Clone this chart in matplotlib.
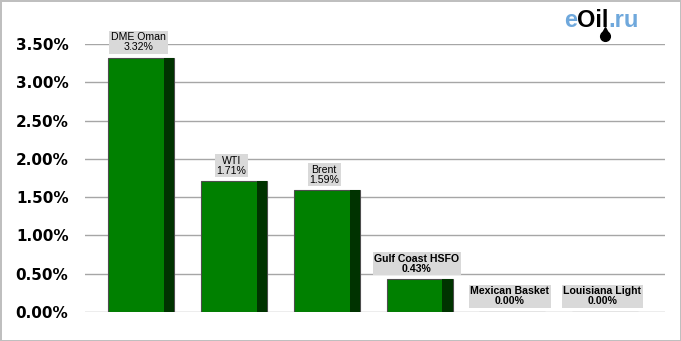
import matplotlib.pyplot as plt
from matplotlib.lines import Line2D
import numpy as np

# Chart data
names = ["DME Oman", "WTI", "Brent", "Gulf Coast HSFO", "Mexican Basket", "Louisiana Light"]
values = [3.32, 1.71, 1.59, 0.43, 0.00, 0.00]
yticks = [0.0, 0.5, 1.0, 1.5, 2.0, 2.5, 3.0, 3.5]

fig = plt.figure(figsize=(6.81, 3.41), dpi=100)
fig.patch.set_edgecolor("#bfbfbf")
fig.patch.set_linewidth(2)
ax = fig.add_axes([0.125, 0.085, 0.8515, 0.786])

x = np.arange(len(names))
w = 0.71
side = 0.11

# main green bars plus a dark strip on the right for the 3D look
ax.bar(x - 0.015, values, width=w, color="#008000", edgecolor="#4d4d4d", linewidth=0.8, zorder=3)
ax.bar(x - 0.015 + w / 2 - side / 2, values, width=side, color="#003300", linewidth=0, zorder=4)

# value labels in grey boxes
for xi, name, v in zip(x, names, values):
    ax.annotate(f"{name}\n{v:.2f}%", (xi, v), xytext=(-3, 4), textcoords="offset points",
                ha="center", va="bottom", fontsize=7.6, family="Liberation Sans",
                fontweight="bold" if v < 1 else "normal", linespacing=1.0,
                bbox=dict(boxstyle="square,pad=0.15", fc="#d9d9d9", ec="none"), zorder=5)

ax.set_xlim(-0.62, 5.63)
ax.set_ylim(0, 3.5)
ax.set_yticks(yticks)
ax.set_yticklabels([f"{t:.2f}%" for t in yticks], fontsize=11, fontweight="bold")
ax.tick_params(axis="y", length=0, pad=12)
ax.set_xticks([])
ax.grid(axis="y", color="#a6a6a6", linewidth=1, zorder=0)
for s in ax.spines.values():
    s.set_visible(False)

# eOil.ru logo, pieces placed one after another
r = fig.canvas.get_renderer()
xpos = 564
drop_x = None
for part, col in [("e", "#6fa8dc"), ("Oil", "black"), (".ru", "#6fa8dc")]:
    t = fig.text(xpos / 681, 1 - 27 / 341, part, color=col, fontsize=17, fontweight="bold",
                 family="Liberation Sans", ha="left", va="baseline")
    bb = t.get_window_extent(r)
    if part == "Oil":
        drop_x = bb.x1 - 3
    xpos = bb.x1
# oil drop under the "l"
fig.add_artist(Line2D([drop_x / 681], [1 - 36 / 341], transform=fig.transFigure,
                      marker="o", markersize=7, color="black", markeredgecolor="black"))
fig.add_artist(Line2D([drop_x / 681], [1 - 30 / 341], transform=fig.transFigure,
                      marker="^", markersize=5, color="black"))

fig.savefig("out.png", dpi=100)
